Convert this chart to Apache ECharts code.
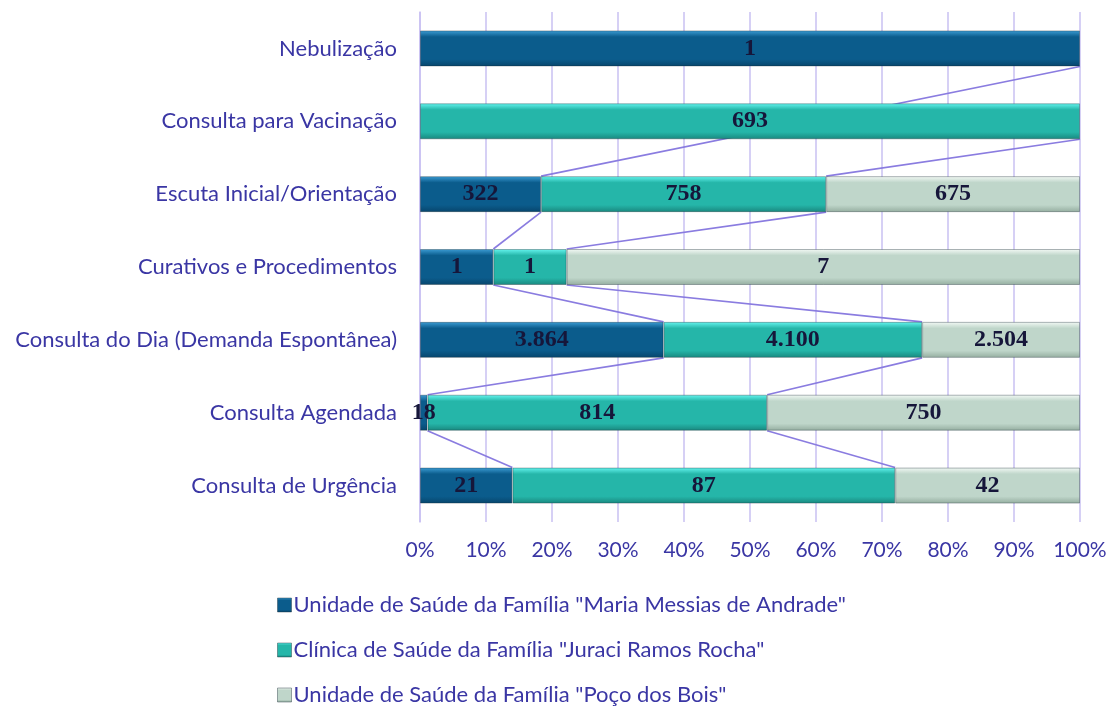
<!DOCTYPE html>
<html>
<head>
<meta charset="utf-8">
<script src="https://cdn.jsdelivr.net/npm/echarts@6/dist/echarts.min.js"></script>
<style>
  html, body { margin: 0; padding: 0; background: #fff; }
  #chart { width: 1110px; height: 707px; }
</style>
</head>
<body>
<div id="chart"></div>
<script>
// categories, bottom to top (category axis starts at the bottom)
const categories = [
  'Consulta de Urgência',
  'Consulta Agendada',
  'Consulta do Dia (Demanda Espontânea)',
  'Curativos e Procedimentos',
  'Escuta Inicial/Orientação',
  'Consulta para Vacinação',
  'Nebulização'
];
const seriesNames = [
  'Unidade de Saúde da Família "Maria Messias de Andrade"',
  'Clínica de Saúde da Família "Juraci Ramos Rocha"',
  'Unidade de Saúde da Família "Poço dos Bois"'
];
// null = no value for that unit
const mariaMessias = [21, 18, 3864, 1, 322, null, 1];
const juraciRamos = [87, 814, 4100, 1, 758, 693, null];
const pocoDosBois = [42, 750, 2504, 7, 675, null, null];
const xTicks = [0, 10, 20, 30, 40, 50, 60, 70, 80, 90, 100];

const raw = [mariaMessias, juraciRamos, pocoDosBois];
const totals = categories.map((c, i) => raw.reduce((s, arr) => s + (arr[i] || 0), 0));
const pct = raw.map(arr => arr.map((v, i) => v == null ? null : v / totals[i] * 100));

function fmt(v) {
  return String(v).replace(/\B(?=(\d{3})+(?!\d))/g, '.');
}

const fills = [
  ['#3d9ed6', '#0b5c8c', '#07456c'],
  ['#66f6f0', '#25b6a9', '#19877e'],
  ['#f4faf6', '#bfd6ca', '#94ad9f']
];
function grad(c) {
  return new echarts.graphic.LinearGradient(0, 0, 0, 1, [
    { offset: 0, color: c[0] },
    { offset: 0.18, color: c[1] },
    { offset: 0.8, color: c[1] },
    { offset: 1, color: c[2] }
  ]);
}

const BAR_H = 36;

// series lines: connect the cumulative end of each segment between neighbouring bars
const connectors = [];
raw.forEach((arr, s) => {
  const pts = [];
  arr.forEach((v, i) => {
    if (v == null) return;
    let cum = 0;
    for (let k = 0; k <= s; k++) cum += pct[k][i] || 0;
    pts.push([cum, i]);
  });
  for (let j = 0; j + 1 < pts.length; j++) {
    // lines lying on the 100% edge are not drawn
    if (pts[j][0] > 99.99 && pts[j + 1][0] > 99.99) continue;
    connectors.push([pts[j][0], pts[j][1], pts[j + 1][0], pts[j + 1][1]]);
  }
});

const chart = echarts.init(document.getElementById('chart'));

const barSeries = seriesNames.map((name, s) => ({
  name: name,
  type: 'bar',
  stack: 'total',
  barWidth: BAR_H,
  z: 3,
  data: pct[s].map((v, i) => ({ value: v, raw: raw[s][i] })),
  itemStyle: {
    color: grad(fills[s]),
    borderColor: 'rgba(20,40,50,0.35)',
    borderWidth: 1
  },
  label: {
    show: true,
    position: 'inside',
    fontFamily: 'Liberation Serif',
    fontWeight: 'bold',
    fontSize: 24,
    color: '#16163a',
    formatter: p => p.data.raw == null ? '' : fmt(p.data.raw)
  }
}));

const option = {
  animation: false,
  backgroundColor: '#fff',
  grid: { left: 420, right: 30, top: 12, bottom: 185 },
  legend: {
    orient: 'vertical',
    left: 277,
    top: 594,
    padding: 0,
    height: 200,
    itemGap: 23,
    itemWidth: 14,
    itemHeight: 14,
    icon: 'rect',
    textStyle: { fontFamily: 'Lato', fontSize: 22, color: '#3a36a4', padding: [0, 0, 0, -3] },
    data: seriesNames.map((n, s) => ({ name: n, itemStyle: { color: grad(fills[s]), borderColor: 'rgba(20,40,50,0.4)', borderWidth: 1 } }))
  },
  xAxis: {
    type: 'value',
    min: xTicks[0],
    max: xTicks[xTicks.length - 1],
    interval: 10,
    axisLine: { show: false },
    axisTick: { show: false },
    splitLine: { lineStyle: { color: '#c9c1f2', width: 1.5 } },
    axisLabel: {
      margin: 18,
      fontFamily: 'Lato',
      fontSize: 21,
      color: '#3a36a4',
      formatter: v => v + '%'
    }
  },
  yAxis: {
    type: 'category',
    data: categories,
    axisLine: { show: true, lineStyle: { color: '#c9c1f2', width: 1.5 } },
    axisTick: { show: false },
    axisLabel: {
      margin: 23,
      fontFamily: 'Lato',
      fontSize: 22,
      color: '#3a36a4'
    }
  },
  series: [
    {
      type: 'custom',
      name: 'seriesLines',
      z: 1,
      silent: true,
      encode: { x: [0, 2], y: [1, 3] },
      data: connectors,
      renderItem: (params, api) => {
        const a = api.coord([api.value(0), api.value(1)]);
        const b = api.coord([api.value(2), api.value(3)]);
        return {
          type: 'line',
          shape: { x1: a[0], y1: a[1] - BAR_H / 2, x2: b[0], y2: b[1] + BAR_H / 2 },
          style: { stroke: '#8a7ce0', lineWidth: 1.6 }
        };
      }
    }
  ].concat(barSeries)
};

option && chart.setOption(option);
</script>
</body>
</html>
